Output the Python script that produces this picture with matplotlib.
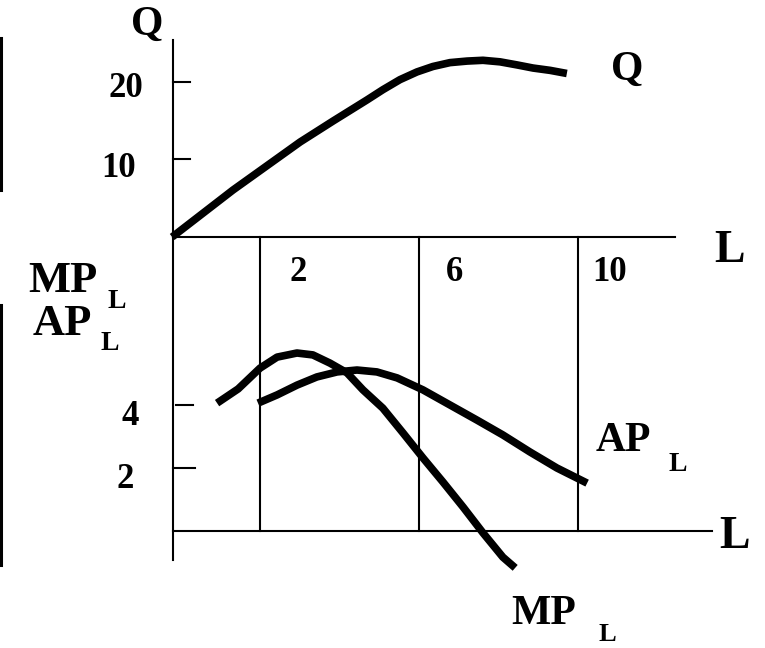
import matplotlib
matplotlib.use("Agg")
import matplotlib.pyplot as plt

# total product curve (top panel)
q_L = [-0.21, 1.32, 3.01, 3.84, 4.69, 5.09, 5.52, 5.95, 6.35, 6.78, 7.21,
       7.61, 8.04, 8.47, 8.87, 9.30, 9.72]
q_Q = [0.0, 6.06, 12.26, 14.97, 17.68, 19.0, 20.3, 21.3, 22.0, 22.5, 22.7,
       22.8, 22.6, 22.2, 21.8, 21.5, 21.1]

# marginal product of labour (bottom panel)
mp_L = [0.92, 1.45, 2.0, 2.43, 2.93, 3.33, 3.76, 4.19, 4.59, 5.09, 5.60,
        6.10, 6.60, 7.11, 7.61, 8.11, 8.42]
mp_v = [4.06, 4.51, 5.17, 5.52, 5.65, 5.59, 5.33, 5.02, 4.48, 3.90, 3.11,
        2.32, 1.56, 0.76, -0.06, -0.83, -1.17]

# average product of labour (bottom panel)
ap_L = [1.95, 2.43, 2.93, 3.43, 3.94, 4.44, 4.94, 5.45, 6.10, 6.78, 7.46,
        8.11, 8.79, 9.47, 10.23]
ap_v = [4.06, 4.32, 4.63, 4.89, 5.05, 5.11, 5.05, 4.86, 4.48, 4.0, 3.52,
        3.05, 2.51, 2.0, 1.52]

q_ticks = [20, 10]
mp_ticks = [4, 2]
l_marks = [2, 6, 10]

FONT = dict(family="Liberation Serif", fontweight="bold", color="black",
            ha="center", va="center")
CURVE = dict(color="black", lw=5.5, solid_capstyle="butt",
             solid_joinstyle="round")

fig = plt.figure(figsize=(7.65, 6.48), dpi=100)
top = fig.add_axes([0, 411 / 648, 1, 237 / 648])
bot = fig.add_axes([0, 0, 1, 411 / 648])
top.set_xlim(-4.541, 14.705)
top.set_ylim(0, 30.58)
bot.set_xlim(-4.541, 14.705)
bot.set_ylim(-3.714, 9.333)
for ax in (top, bot):
    ax.axis("off")

lw_axis = 1.5
x0 = -0.2

# --- top panel: Q vs L
top.plot([x0, x0], [0, 25.4], color="black", lw=lw_axis, clip_on=False)
top.plot([x0, 12.44], [0, 0], color="black", lw=lw_axis, clip_on=False)
for t in q_ticks:
    top.plot([x0, 0.24], [t, t], color="black", lw=lw_axis)
top.text(-1.37, 19.1, "20", fontsize=25, **FONT)
top.text(-1.55, 8.9, "10", fontsize=25, **FONT)
top.text(-0.84, 27.3, "Q", fontsize=30, **FONT)
top.text(11.23, 21.6, "Q", fontsize=30, **FONT)
top.text(13.8, -1.8, "L", fontsize=33, clip_on=False, **FONT)
top.plot(q_L, q_Q, clip_on=False, **CURVE)
# cropped frame edge on the left
top.plot([-4.516, -4.516], [25.7, 6.06], color="black", lw=2.2)

# --- bottom panel: MP_L and AP_L vs L
bot.plot([x0, x0], [9.333, -0.92], color="black", lw=lw_axis, clip_on=False)
bot.plot([x0, 13.37], [0, 0], color="black", lw=lw_axis)
for m in l_marks:
    bot.plot([m, m], [0, 9.333], color="black", lw=lw_axis, clip_on=False)
bot.plot([-0.11, 0.31], [mp_ticks[0]] * 2, color="black", lw=lw_axis)
bot.plot([x0, 0.36], [mp_ticks[1]] * 2, color="black", lw=lw_axis)
bot.plot([-4.516, -4.516], [7.17, -1.08], color="black", lw=2.2)

for m, xl in zip(l_marks, [2.96, 6.9, 10.8]):
    bot.text(xl, 8.22, str(m), fontsize=25, **FONT)
bot.text(-1.27, 3.65, str(mp_ticks[0]), fontsize=25, **FONT)
bot.text(-1.40, 1.62, str(mp_ticks[1]), fontsize=25, **FONT)

bot.text(-2.96, 7.94, "MP", fontsize=32, **FONT)
bot.text(-1.60, 7.27, "L", fontsize=20, **FONT)
bot.text(-2.98, 6.57, "AP", fontsize=32, **FONT)
bot.text(-1.77, 5.94, "L", fontsize=20, **FONT)
bot.text(13.95, -0.19, "L", fontsize=33, **FONT)
bot.text(11.13, 2.86, "AP", fontsize=30, **FONT)
bot.text(12.52, 2.10, "L", fontsize=20, **FONT)
bot.text(9.14, -2.63, "MP", fontsize=30, **FONT)
bot.text(10.75, -3.30, "L", fontsize=19, **FONT)

bot.plot(mp_L, mp_v, **CURVE)
bot.plot(ap_L, ap_v, **CURVE)

fig.savefig("out.png", dpi=100)
